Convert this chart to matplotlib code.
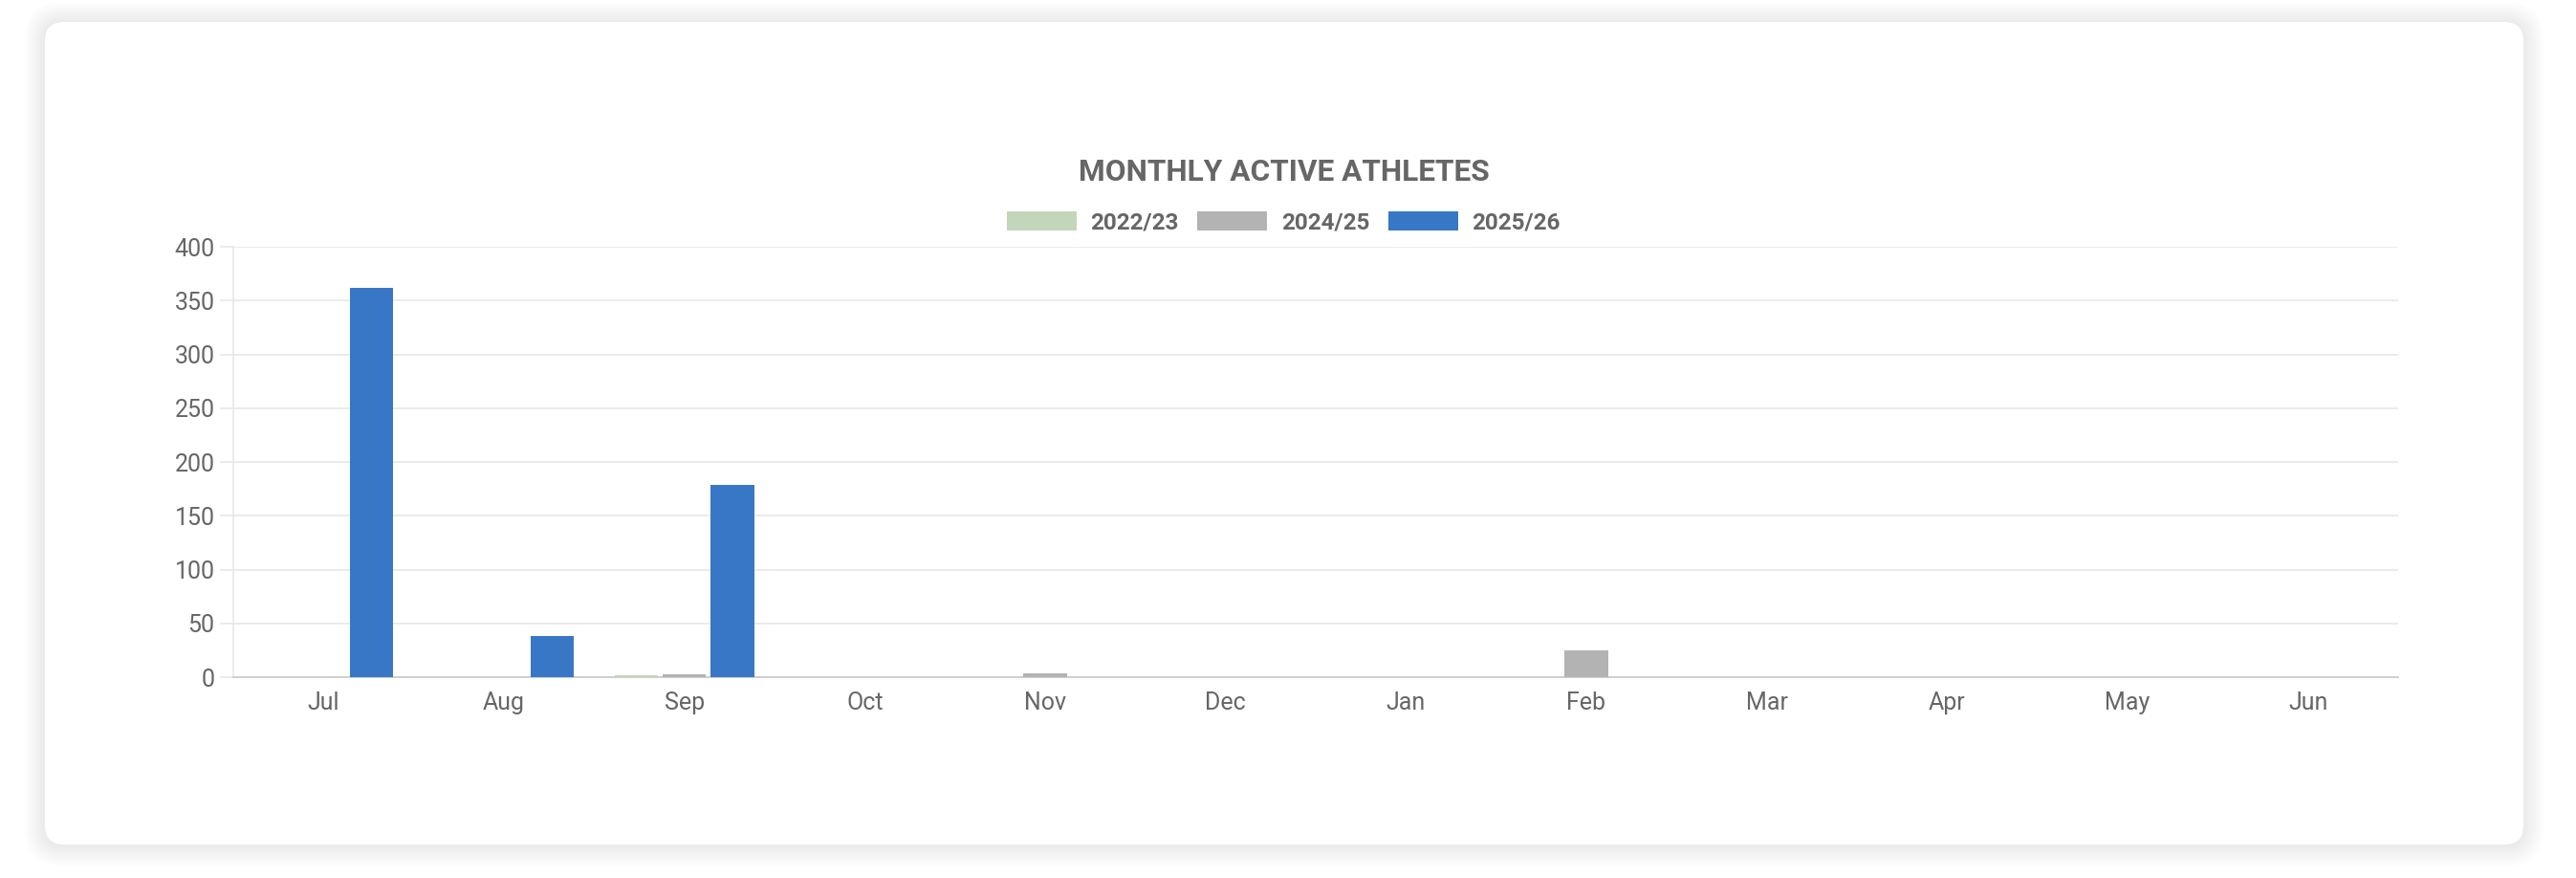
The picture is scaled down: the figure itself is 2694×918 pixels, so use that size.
import matplotlib
matplotlib.use("Agg")
import matplotlib.pyplot as plt
import numpy as np
from matplotlib.patches import FancyBboxPatch, Patch
from matplotlib.transforms import IdentityTransform

months = ["Jul", "Aug", "Sep", "Oct", "Nov", "Dec", "Jan", "Feb", "Mar", "Apr", "May", "Jun"]
seasons = ["2022/23", "2024/25", "2025/26"]
season_2022_23 = [0, 0, 2, 0, 0, 0, 0, 0, 0, 0, 0, 0]
season_2024_25 = [0, 0, 3, 0, 4, 0, 0, 25, 0, 0, 0, 0]
season_2025_26 = [362, 38, 179, 0, 0, 0, 0, 0, 0, 0, 0, 0]
colors = ["#c2d7b9", "#b3b3b3", "#3877c6"]
y_ticks = [0, 50, 100, 150, 200, 250, 300, 350, 400]

W, H = 2694, 918
plt.rcParams['font.family'] = ['Roboto', 'DejaVu Sans']
fig = plt.figure(figsize=(W / 100, H / 100), dpi=100)
fig.patch.set_facecolor("white")

# card with a soft shadow
cx0, cy0, cx1, cy1 = 47, H - 883, 2639, H - 23
for i in range(10):
    g = 22 - i * 2.2
    fig.add_artist(FancyBboxPatch((cx0 - g, cy0 - g - 1), cx1 - cx0 + 2 * g, cy1 - cy0 + 2 * g,
                                  boxstyle="round,pad=0,rounding_size=%d" % (20 + g),
                                  transform=IdentityTransform(), facecolor="black",
                                  edgecolor="none", alpha=0.008, zorder=0))
fig.add_artist(FancyBboxPatch((cx0, cy0), cx1 - cx0, cy1 - cy0,
                              boxstyle="round,pad=0,rounding_size=20",
                              transform=IdentityTransform(), facecolor="white",
                              edgecolor="none", zorder=1))

ax = fig.add_axes([244 / W, 1 - 708 / H, (2508 - 244) / W, (708 - 258) / H])
ax.set_zorder(2)
ax.patch.set_alpha(0)

x = np.arange(len(months))
slot = 0.8 / 3
for k, (vals, c) in enumerate(zip([season_2022_23, season_2024_25, season_2025_26], colors)):
    ax.bar(x + (k - 1) * slot, vals, width=slot * 0.9, color=c, zorder=3)

ax.set_xlim(-0.5, len(months) - 0.5)
ax.set_ylim(0, 400)
ax.set_yticks(y_ticks)
ax.set_xticks(x)
ax.set_xticklabels(months)
ax.grid(axis="y", color="#e6e6e6", linewidth=1.1, zorder=0)
for s in ["top", "right"]:
    ax.spines[s].set_visible(False)
ax.spines["left"].set_color("#e6e6e6")
ax.spines["left"].set_linewidth(1.1)
ax.spines["bottom"].set_color("#cccccc")
ax.spines["bottom"].set_linewidth(1.3)
ax.tick_params(axis="y", length=10, width=1.1, color="#e6e6e6", pad=4, labelsize=18, labelcolor="#666666")
ax.tick_params(axis="x", length=0, pad=11, labelsize=18, labelcolor="#666666")

fig.text(0.4983, 1 - 180 / H, "MONTHLY ACTIVE ATHLETES", ha="center", va="center",
         fontsize=22.8, fontweight="bold", color="#666666", zorder=5)

handles = [Patch(facecolor=c, edgecolor="none") for c in colors]
leg = fig.legend(handles, seasons, loc="center", bbox_to_anchor=(0.4983, 1 - 233 / H), ncol=3,
                 frameon=False, handlelength=3.0, handleheight=0.85, handletextpad=0.6,
                 columnspacing=0.8, prop={"family": "Roboto", "weight": "bold", "size": 17.5})
for t in leg.get_texts():
    t.set_color("#666666")
leg.set_zorder(5)

fig.savefig("out.png", dpi=100)
